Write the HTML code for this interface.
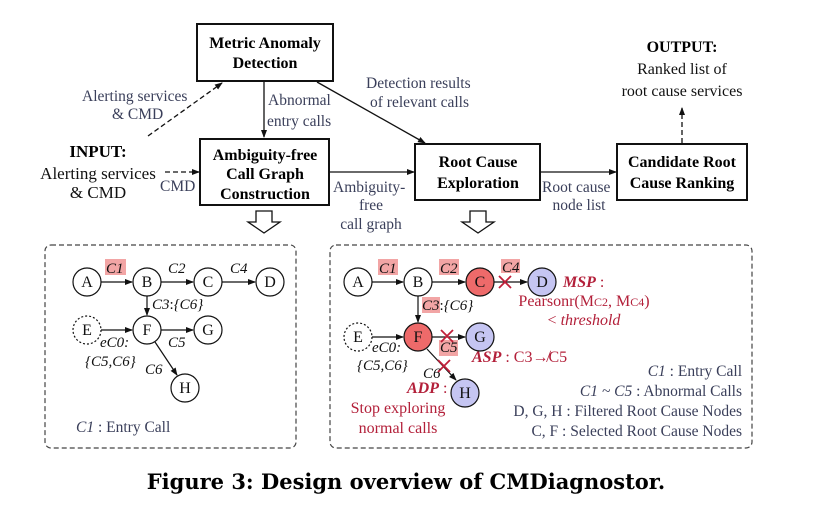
<!DOCTYPE html>
<html><head><meta charset="utf-8"><style>
body{margin:0;background:#fff}
svg{display:block}
svg text, svg tspan{font-family:"Liberation Serif","DejaVu Serif",serif}
.b{font-weight:bold;font-size:16px;fill:#000}
.g{font-size:15.5px;fill:#3a3f5a}
.n{font-size:16px;fill:#111}
.i{font-style:italic}
.r{fill:#b3203a}
</style></head><body>
<svg width="823" height="518" viewBox="0 0 823 518" font-family="Liberation Serif, DejaVu Serif, serif">
<defs>
<marker id="ah" markerWidth="8" markerHeight="8" refX="7" refY="4" orient="auto" markerUnits="userSpaceOnUse"><path d="M0,1 L8,4 L0,7 Z" fill="#111"/></marker>
</defs>
<g fill="none" stroke="#111" stroke-width="2">
<rect x="197" y="24" width="136" height="57"/>
<rect x="200" y="139" width="129" height="66"/>
<rect x="415" y="144" width="125" height="56"/>
<rect x="617" y="144" width="130" height="56"/>
</g>
<g class="b" text-anchor="middle">
<text x="265" y="48">Metric Anomaly</text><text x="265" y="68">Detection</text>
<text x="265" y="160">Ambiguity-free</text><text x="265" y="179">Call Graph</text><text x="265" y="199">Construction</text>
<text x="478" y="167">Root Cause</text><text x="478" y="188">Exploration</text>
<text x="682" y="167">Candidate Root</text><text x="682" y="188">Cause Ranking</text>
<text x="682" y="52">OUTPUT:</text>
<text x="98" y="157" style="font-size:17px">INPUT:</text>
</g>
<g class="n" text-anchor="middle">
<text x="682" y="74">Ranked list of</text><text x="682" y="96">root cause services</text>
<text x="98" y="179" style="font-size:17px">Alerting services</text><text x="98" y="198" style="font-size:17px">&amp; CMD</text>
</g>
<g stroke="#111" stroke-width="1.3" fill="none">
<line x1="264" y1="82" x2="264" y2="137" marker-end="url(#ah)"/>
<line x1="317" y1="82" x2="425" y2="143" marker-end="url(#ah)"/>
<line x1="329" y1="172" x2="414" y2="172" marker-end="url(#ah)"/>
<line x1="540" y1="172" x2="616" y2="172" marker-end="url(#ah)"/>
<line x1="682" y1="143" x2="682" y2="108" stroke-dasharray="5,3" marker-end="url(#ah)"/>
<line x1="165" y1="172" x2="199" y2="172" stroke-dasharray="5,3" marker-end="url(#ah)"/>
<line x1="148" y1="136" x2="222" y2="83" stroke-dasharray="5,3" marker-end="url(#ah)"/>
<path d="M256,211 h16 v11 h8 l-16,11 l-16,-11 h8 z"/>
<path d="M470,211 h16 v11 h8 l-16,11 l-16,-11 h8 z"/>
</g>
<g class="g">
<text x="82" y="101">Alerting services</text><text x="112" y="119">&amp; CMD</text>
<text x="160" y="191">CMD</text>
<text x="268" y="105">Abnormal</text><text x="267" y="126">entry calls</text>
<text x="366" y="88">Detection results</text><text x="370" y="107">of relevant calls</text>
<text x="333" y="192">Ambiguity-</text><text x="371" y="210" text-anchor="middle">free</text><text x="371" y="229" text-anchor="middle">call graph</text>
<text x="542" y="192">Root cause</text><text x="579" y="210" text-anchor="middle">node list</text>
</g>
<rect x="45" y="245" width="251" height="203" rx="6" fill="none" stroke="#444" stroke-width="1.2" stroke-dasharray="5,3"/>
<rect x="330" y="245" width="422" height="203" rx="6" fill="none" stroke="#444" stroke-width="1.2" stroke-dasharray="5,3"/>
<rect x="105" y="259" width="21" height="16" fill="#f2a5a5"/>
<g stroke="#111" stroke-width="1.2" fill="none">
<line x1="101" y1="282" x2="132" y2="282" marker-end="url(#ah)"/>
<line x1="161" y1="282" x2="193" y2="282" marker-end="url(#ah)"/>
<line x1="222" y1="282" x2="255" y2="282" marker-end="url(#ah)"/>
<line x1="147" y1="296" x2="147" y2="315" marker-end="url(#ah)"/>
<line x1="101" y1="330" x2="132" y2="330" marker-end="url(#ah)"/>
<line x1="161" y1="330" x2="193" y2="330" marker-end="url(#ah)"/>
<line x1="155" y1="342" x2="177" y2="375" marker-end="url(#ah)"/>
</g>
<g stroke="#111" stroke-width="1.2" fill="#fff">
<circle cx="87" cy="282" r="14"/><circle cx="147" cy="282" r="14"/><circle cx="208" cy="282" r="14"/><circle cx="270" cy="282" r="14"/>
<circle cx="87" cy="330" r="14" stroke-dasharray="2,2"/><circle cx="147" cy="330" r="14"/><circle cx="208" cy="330" r="14"/><circle cx="185" cy="388" r="14"/>
</g>
<g class="n" text-anchor="middle">
<text x="87" y="287">A</text><text x="147" y="287">B</text><text x="208" y="287">C</text><text x="270" y="287">D</text>
<text x="87" y="335">E</text><text x="147" y="335">F</text><text x="208" y="335">G</text><text x="185" y="393">H</text>
</g>
<g class="n i" style="font-size:15px">
<text x="106" y="273">C1</text><text x="168" y="273">C2</text><text x="230" y="273">C4</text>
<text x="152" y="309">C3<tspan font-style="normal">:</tspan>{C6}</text>
<text x="100" y="347">eC0:</text><text x="85" y="366">{C5,C6}</text>
<text x="168" y="347">C5</text><text x="145" y="374">C6</text>
</g>
<text x="76" y="432" class="g"><tspan class="i">C1</tspan> : Entry Call</text>
<g fill="#f2a5a5">
<rect x="378" y="259" width="20" height="16"/><rect x="439" y="259" width="20" height="16"/><rect x="501" y="259" width="19" height="14"/>
<rect x="422" y="297" width="18" height="16"/><rect x="439" y="340" width="19" height="16"/>
</g>
<g stroke="#111" stroke-width="1.2" fill="none">
<line x1="372" y1="282" x2="403" y2="282" marker-end="url(#ah)"/>
<line x1="432" y1="282" x2="465" y2="282" marker-end="url(#ah)"/>
<line x1="494" y1="282" x2="527" y2="282" marker-end="url(#ah)"/>
<line x1="418" y1="296" x2="418" y2="322" marker-end="url(#ah)"/>
<line x1="372" y1="337" x2="403" y2="337" marker-end="url(#ah)"/>
<line x1="432" y1="337" x2="465" y2="337" marker-end="url(#ah)"/>
<line x1="427" y1="349" x2="456" y2="380" marker-end="url(#ah)"/>
</g>
<g stroke="#111" stroke-width="1.2">
<circle cx="358" cy="282" r="14" fill="#fff"/><circle cx="418" cy="282" r="14" fill="#fff"/><circle cx="480" cy="282" r="14" fill="#ee6a6a"/><circle cx="542" cy="282" r="14" fill="#c5c5f2"/>
<circle cx="358" cy="337" r="14" fill="#fff" stroke-dasharray="2,2"/><circle cx="418" cy="337" r="14" fill="#ee6a6a"/><circle cx="480" cy="337" r="14" fill="#c5c5f2"/><circle cx="465" cy="393" r="14" fill="#c5c5f2"/>
</g>
<g stroke="#c0203a" stroke-width="1.8">
<path d="M499,276 l12,12 M511,276 l-12,12"/>
<path d="M441,330 l12,12 M453,330 l-12,12"/>
<path d="M438,360 l12,12 M450,360 l-12,12"/>
</g>
<g class="n" text-anchor="middle">
<text x="358" y="287">A</text><text x="418" y="287">B</text><text x="480" y="287">C</text><text x="542" y="287">D</text>
<text x="358" y="342">E</text><text x="418" y="342">F</text><text x="480" y="342">G</text><text x="465" y="398">H</text>
</g>
<g class="n i" style="font-size:15px">
<text x="379" y="273">C1</text><text x="440" y="273">C2</text><text x="502" y="272">C4</text>
<text x="422" y="310">C3<tspan font-style="normal">:</tspan>{C6}</text>
<text x="372" y="352">eC0:</text><text x="357" y="370">{C5,C6}</text>
<text x="440" y="352">C5</text><text x="423" y="378">C6</text>
</g>
<g class="r" style="font-size:16px">
<text x="563" y="287"><tspan font-weight="bold" font-style="italic">MSP</tspan> :</text>
<text x="584" y="306" text-anchor="middle">Pearsonr(M<tspan font-size="12">C2</tspan>, M<tspan font-size="12">C4</tspan>)</text>
<text x="584" y="325" text-anchor="middle">&lt; <tspan font-style="italic">threshold</tspan></text>
<text x="472" y="362"><tspan font-weight="bold" font-style="italic">ASP</tspan> : C3↛C5</text>
<text x="407" y="393"><tspan font-weight="bold" font-style="italic">ADP</tspan> :</text>
<text x="398" y="413" text-anchor="middle">Stop exploring</text>
<text x="398" y="433" text-anchor="middle">normal calls</text>
</g>
<g class="g" text-anchor="end">
<text x="742" y="376"><tspan class="i">C1</tspan> : Entry Call</text>
<text x="742" y="396"><tspan class="i">C1 ~ C5</tspan> : Abnormal Calls</text>
<text x="742" y="416">D, G, H : Filtered Root Cause Nodes</text>
<text x="742" y="436">C, F : Selected Root Cause Nodes</text>
</g>
<text x="406" y="489" text-anchor="middle" style="font-family:'DejaVu Serif','Liberation Serif',serif;font-weight:bold;font-size:21px">Figure 3: Design overview of CMDiagnostor.</text>
</svg>
</body></html>
